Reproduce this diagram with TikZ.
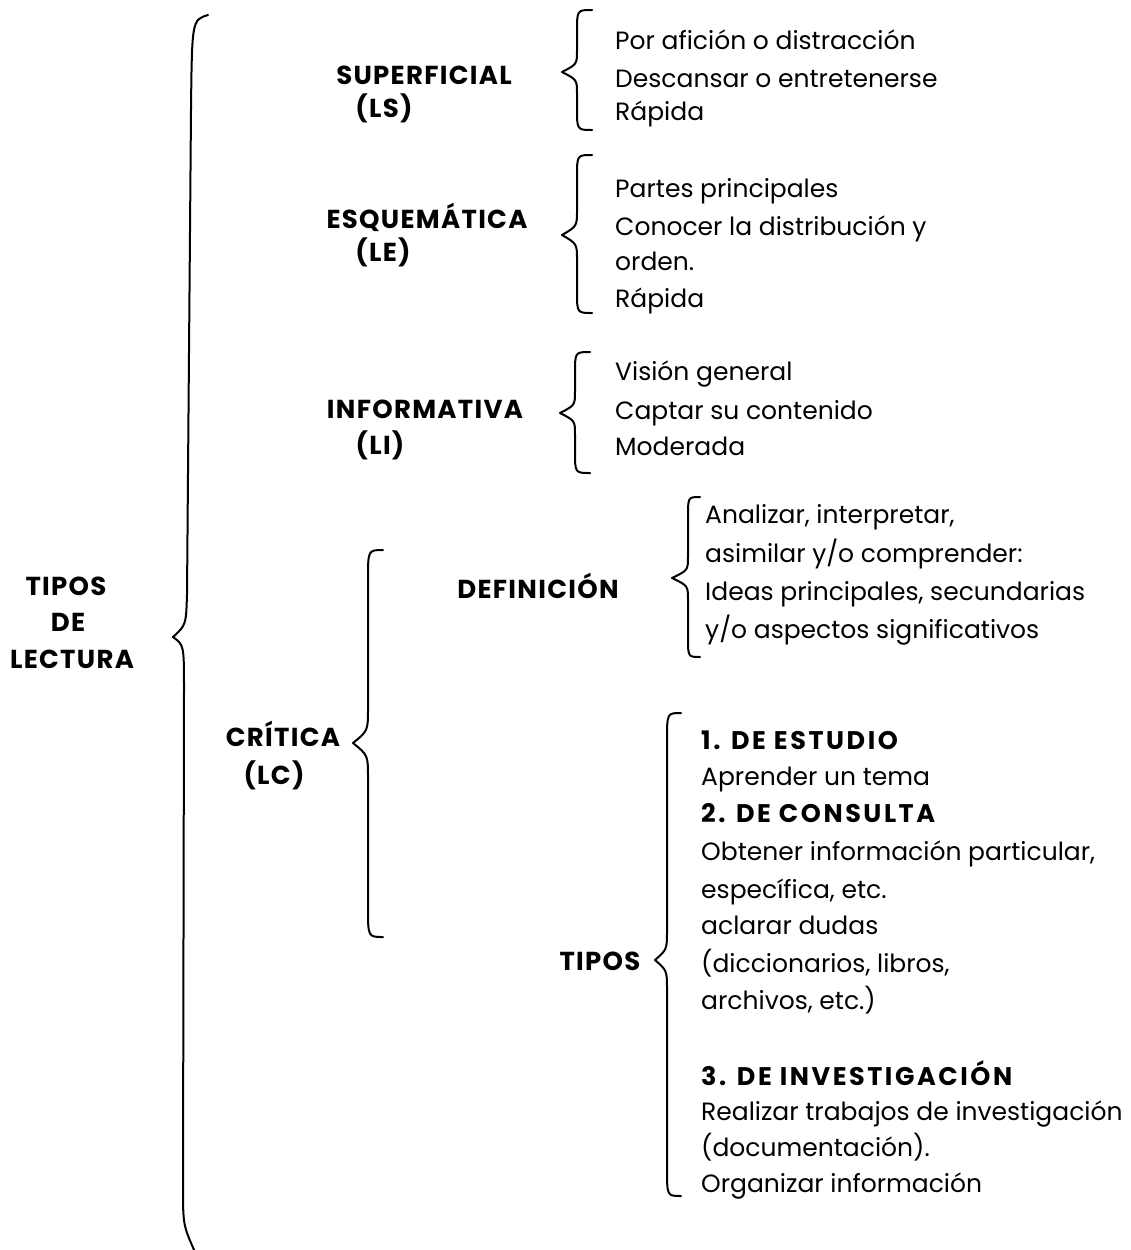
\documentclass[tikz,border=0pt]{standalone}
\usepackage{fontspec}
\setmainfont{Poppins}
\newfontfamily\headfont[LetterSpace=5]{Poppins}
\newfontfamily\listheadfont[LetterSpace=10]{Poppins}
\begin{document}
\begin{tikzpicture}[x=1pt,y=-1pt,
  brace/.style={line width=2pt, line cap=round, line join=round},
  item/.style={anchor=west, inner sep=0pt, text height=0.6em, text depth=0pt,
    yshift=-4pt, font=\fontsize{25}{30}\selectfont},
  head/.style={anchor=center, inner sep=0pt, text height=0.6em, text depth=0pt,
    yshift=-4pt, font=\headfont\fontsize{26}{30}\selectfont\bfseries},
  bitem/.style={item, font=\listheadfont\fontsize{25.5}{30}\selectfont\bfseries}]
\useasboundingbox (0,0) rectangle (1131,1250);

% curly brace: hook x, line x, tip x, top y, tip y, bottom y, hook radius, tip radius
\newcommand{\curlybrace}[8]{%
  \draw[brace] (#1,#4) .. controls (#2,#4) .. (#2,#4+#7)
    -- (#2,#5-#8) .. controls (#2,#5-0.35*#8) .. (#3,#5)
    .. controls (#2,#5+0.35*#8) .. (#2,#5+#8)
    -- (#2,#6-#7) .. controls (#2,#6) .. (#1,#6);}

% main brace
\draw[brace] (208,15) .. controls (192,20) .. (191,110)
  -- (187,595) .. controls (186,625) .. (173,637)
  .. controls (184,645) .. (184,690)
  -- (183,1185) .. controls (183,1225) .. (195,1252);

\node[head] (t1) at (66,588) {TIPOS};
\node[head] (t2) at (68,624) {DE};
\node[head] (t3) at (72,661) {LECTURA};

% superficial
\node[head] (ls) at (424,77) {SUPERFICIAL};
\node[head] (lsa) at (384,110) {(LS)};
\curlybrace{592}{577}{562}{10}{72}{130}{22}{22}
\node[item] (ls1) at (615,42) {Por afición o distracción};
\node[item] (ls2) at (615,80) {Descansar o entretenerse};
\node[item] (ls3) at (615,113) {Rápida};

% esquematica
\node[head] (le) at (427,221) {ESQUEMÁTICA};
\node[head] (lea) at (383,254) {(LE)};
\curlybrace{592}{577}{562}{155}{235}{313}{22}{25}
\node[item] (le1) at (615,190) {Partes principales};
\node[item] (le2) at (615,228) {Conocer la distribución y};
\node[item] (le3) at (615,263) {orden.};
\node[item] (le4) at (615,300) {Rápida};

% informativa
\node[head] (li) at (425,411) {INFORMATIVA};
\node[head] (lia) at (380,447) {(LI)};
\curlybrace{590}{575}{560}{352}{413}{473}{22}{22}
\node[item] (li1) at (615,373) {Visión general};
\node[item] (li2) at (615,412) {Captar su contenido};
\node[item] (li3) at (615,448) {Moderada};

% critica
\node[head] (lc) at (283,739) {CRÍTICA};
\node[head] (lca) at (274,777) {(LC)};
\curlybrace{383}{368}{353}{550}{743}{937}{30}{35}

\node[head] (def) at (538,591) {DEFINICIÓN};
\curlybrace{700}{688}{672}{497}{578}{657}{20}{22}
\node[item] (d1) at (705,516) {Analizar, interpretar,};
\node[item] (d2) at (705,555) {asimilar y/o comprender:};
\node[item] (d3) at (705,593) {Ideas principales, secundarias};
\node[item] (d4) at (705,631) {y/o aspectos significativos};

\node[head] (tip) at (600,963) {TIPOS};
\curlybrace{681}{667}{655}{713}{960}{1196}{28}{30}
\node[bitem] (c1) at (701,742) {1. DE ESTUDIO};
\node[item] (c2) at (701,778) {Aprender un tema};
\node[bitem] (c3) at (701,815) {2. DE CONSULTA};
\node[item] (c4) at (701,853) {Obtener información particular,};
\node[item] (c5) at (701,891) {específica, etc.};
\node[item] (c6) at (701,927) {aclarar dudas};
\node[item] (c7) at (701,965) {(diccionarios, libros,};
\node[item] (c8) at (701,1002) {archivos, etc.)};
\node[bitem] (c9) at (701,1078) {3. DE INVESTIGACIÓN};
\node[item] (c10) at (701,1113) {Realizar trabajos de investigación};
\node[item] (c11) at (701,1149) {(documentación).};
\node[item] (c12) at (701,1185) {Organizar información};
\end{tikzpicture}
\end{document}
